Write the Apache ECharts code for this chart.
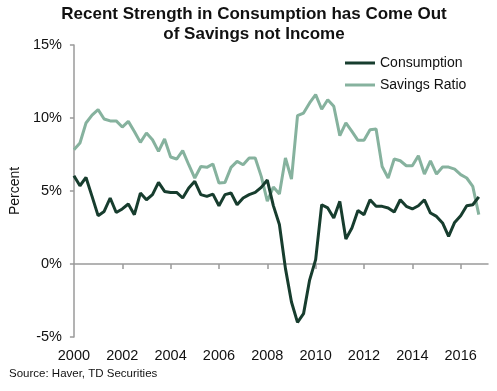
<!DOCTYPE html>
<html><head><meta charset="utf-8">
<script src="https://cdn.jsdelivr.net/npm/echarts@6/dist/echarts.min.js"></script>
<style>html,body{margin:0;padding:0;background:#fff}#c{width:497px;height:391px}</style>
</head><body><div id="c"></div>
<script>
const startYear = 2000;
const quarterStep = 0.25;
const consumption = [6.05,5.36,5.93,4.63,3.31,3.6,4.52,3.53,3.77,4.11,3.38,4.86,4.4,4.75,5.59,4.97,4.9,4.9,4.52,5.2,5.66,4.75,4.63,4.79,3.99,4.75,4.86,4.06,4.52,4.75,4.9,5.25,5.75,4.0,2.7,-0.3,-2.6,-4.0,-3.4,-1.1,0.3,4.06,3.84,3.15,4.29,1.71,2.47,3.67,3.38,4.4,3.95,3.95,3.84,3.56,4.4,3.95,3.77,3.99,4.4,3.49,3.26,2.81,1.89,2.85,3.31,3.99,4.06,4.6];
const savings = [7.83,8.29,9.66,10.2,10.57,9.93,9.8,9.8,9.38,9.77,9.08,8.33,8.97,8.51,7.71,8.56,7.33,7.19,7.76,6.8,5.89,6.68,6.62,6.85,5.55,5.59,6.62,7.03,6.8,7.26,7.26,6.0,4.3,5.27,4.8,7.26,5.82,10.16,10.34,11.03,11.6,10.6,11.25,10.8,8.79,9.66,9.08,8.47,8.47,9.2,9.24,6.68,5.89,7.19,7.07,6.73,6.73,7.42,6.16,7.07,6.16,6.64,6.64,6.5,6.12,5.89,5.32,3.38];
const yearLabels = [2000,2002,2004,2006,2008,2010,2012,2014,2016];
const yTicks = [-5,0,5,10,15];
const seriesNames = ['Consumption','Savings Ratio'];
const titleLines = ['Recent Strength in Consumption has Come Out','of Savings not Income'];
const sourceText = 'Source: Haver, TD Securities';

const toPairs = arr => arr.map((v,i)=>[startYear + i*quarterStep, v]);
const FONT = '"Liberation Sans", Arial, sans-serif';
const axisGray = '#9a9a9a';
const cCons = '#173d2e', cSav = '#86b29e';
const chart = echarts.init(document.getElementById('c'), null, {renderer:'canvas'});
chart.setOption({
  animation:false,
  backgroundColor:'#fff',
  textStyle:{fontFamily:FONT},
  grid:{left:70,right:9,top:45,bottom:54,containLabel:false},
  legend:{
    orient:'vertical', left:340, top:51, itemGap:8, itemWidth:30, itemHeight:3, icon:'rect',
    textStyle:{fontFamily:FONT,fontSize:14,color:'#111'},
    data:[{name:seriesNames[0],itemStyle:{color:cCons}},{name:seriesNames[1],itemStyle:{color:cSav}}]
  },
  graphic:[
    {type:'text',x:254,y:4,style:{text:titleLines.join('\n'),font:'bold 17px '+FONT,fill:'#111',align:'center',verticalAlign:'top',lineHeight:20}},
    {type:'text',left:9,top:368,style:{text:sourceText,font:'11.5px '+FONT,fill:'#111'}}
  ],
  xAxis:[{
    type:'value',min:2000,max:2017.13,
    axisLine:{show:true,onZero:true,lineStyle:{color:axisGray,width:1.5}},
    axisTick:{show:true,length:5,inside:false,customValues:yearLabels.slice(1),lineStyle:{color:axisGray,width:1.5}},
    axisLabel:{show:false},
    splitLine:{show:false}
  },{
    type:'value',min:2000,max:2017.13,position:'bottom',
    axisLine:{show:false,onZero:false},axisTick:{show:false},splitLine:{show:false},
    axisLabel:{show:true,customValues:yearLabels,margin:11,fontSize:14.5,color:'#111',fontFamily:FONT,formatter:v=>String(v)}
  }],
  yAxis:{
    type:'value',min:-5,max:15,interval:5,
    name:'Percent',nameLocation:'middle',nameGap:51,nameRotate:90,
    nameTextStyle:{fontSize:14,color:'#111',fontFamily:FONT},
    axisLine:{show:true,lineStyle:{color:axisGray,width:1.5}},
    axisTick:{show:true,length:4,lineStyle:{color:axisGray,width:1.5}},
    axisLabel:{margin:12,fontSize:14.5,color:'#111',fontFamily:FONT,formatter:v=>v+'%'},
    splitLine:{show:false}
  },
  series:[
    {name:seriesNames[1],type:'line',xAxisIndex:0,symbol:'none',data:toPairs(savings),lineStyle:{color:cSav,width:3},itemStyle:{color:cSav},z:2},
    {name:seriesNames[0],type:'line',xAxisIndex:0,symbol:'none',data:toPairs(consumption),lineStyle:{color:cCons,width:3},itemStyle:{color:cCons},z:3}
  ]
});
</script></body></html>
